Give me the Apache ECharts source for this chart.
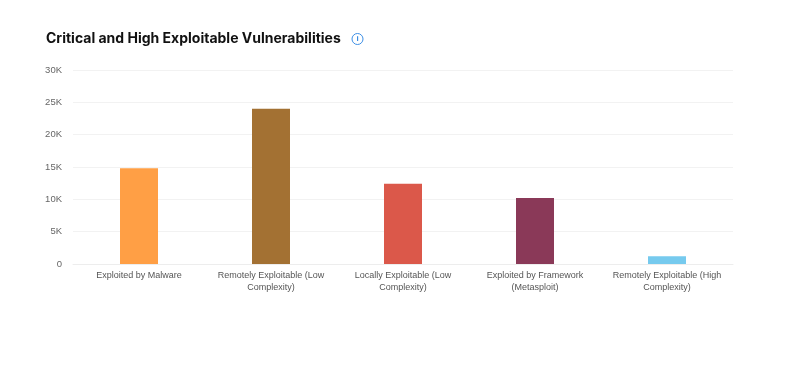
<!DOCTYPE html>
<html><head><meta charset="utf-8">
<style>html,body{margin:0;padding:0;background:#fff}#c{width:797px;height:365px}</style>
<script src="https://cdn.jsdelivr.net/npm/echarts@6/dist/echarts.min.js"></script>
</head><body><div id="c"></div>
<script>
const chartTitle = 'Critical and High Exploitable Vulnerabilities';
const categories = ['Exploited by Malware','Remotely Exploitable (Low\nComplexity)','Locally Exploitable (Low\nComplexity)','Exploited by Framework\n(Metasploit)','Remotely Exploitable (High\nComplexity)'];
const values = [14800, 24000, 12400, 10200, 1200];
const barColors = ['#FF9F45','#A37133','#DB584A','#8A3958','#76CAEE'];
const yTicks = {min:0,max:30000,interval:5000};
const chart = echarts.init(document.getElementById('c'),null,{renderer:'canvas'});
chart.setOption({
  animation:false,
  backgroundColor:'#fff',
  title:{text:chartTitle,left:46,top:32,textStyle:{fontFamily:'Inter',fontSize:14,fontWeight:700,color:'#111'},padding:0},
  grid:{left:73,right:64,top:70,bottom:101},
  graphic:[
    {type:'circle',shape:{cx:357.5,cy:39,r:5.5},style:{fill:'none',stroke:'#3D8FE6',lineWidth:1}},
    {type:'text',style:{x:357.5,y:39,text:'i',fill:'#2F86E0',font:'bold 8px "Liberation Sans"',align:'center',verticalAlign:'middle'}}
  ],
  xAxis:{type:'category',data:categories,
    axisLine:{lineStyle:{color:'#EDEDED'}},axisTick:{show:false},
    axisLabel:{interval:0,color:'#555',fontFamily:'Liberation Sans',fontSize:9,lineHeight:12,margin:6,align:'center'}},
  yAxis:{type:'value',min:yTicks.min,max:yTicks.max,interval:yTicks.interval,
    axisLine:{show:false},axisTick:{show:false},
    splitLine:{lineStyle:{color:'#F2F2F2'}},
    axisLabel:{color:'#666',fontFamily:'Liberation Sans',fontSize:9.5,margin:11,
      formatter:v=>v===0?'0':(v/1000)+'K'}},
  series:[{type:'bar',barWidth:38,
    data:values.map((v,i)=>({value:v,itemStyle:{color:barColors[i]}}))}]
});
</script></body></html>
